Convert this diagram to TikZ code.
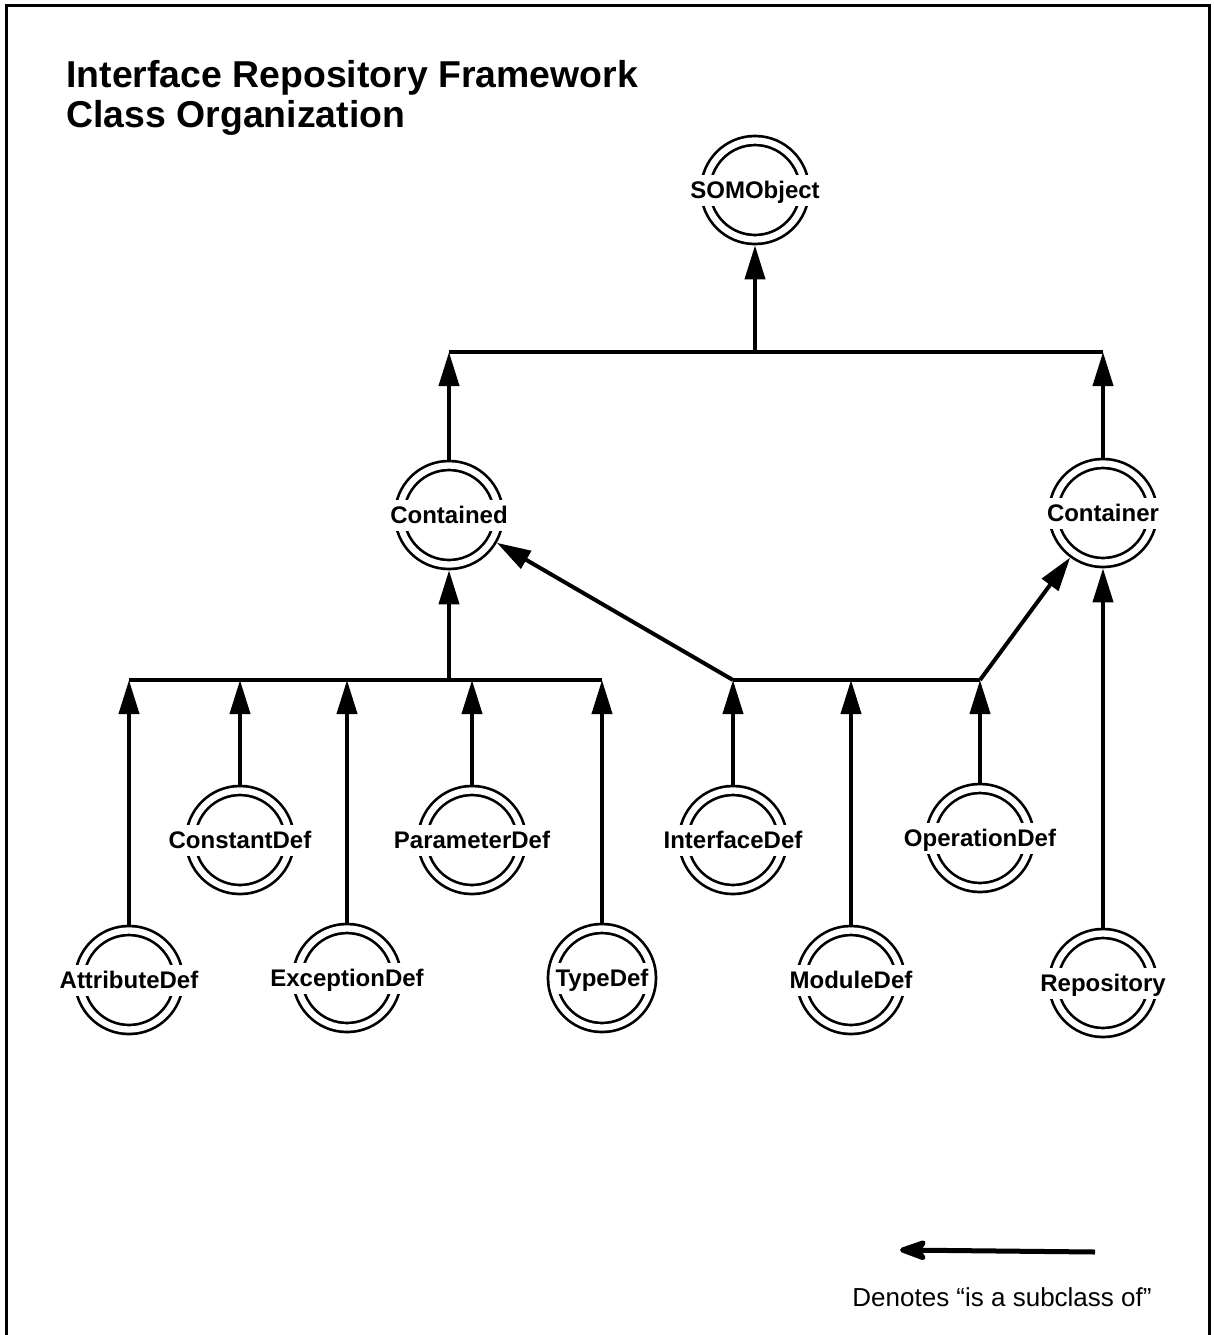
\documentclass[tikz,border=0pt]{standalone}
\usepackage{fontspec}
\setmainfont{Liberation Sans}
\usetikzlibrary{arrows.meta}
\begin{document}
\begin{tikzpicture}[x=0.5pt,y=-0.5pt,
  cls/.style={circle, draw, line width=1.35pt, double, double distance=3.15pt,
    minimum size=49.5pt, inner sep=0pt, outer sep=2.9pt},
  lbl/.style={fill=white, inner sep=1pt, text height=11pt, text depth=2.5pt,
    font=\bfseries\fontsize{12}{14}\selectfont},
  conn/.style={line width=2pt},
  isa/.style={conn, -{Triangle[length=17pt,width=10pt]}},
  titlefont/.style={font=\bfseries\fontsize{18.7}{20}\selectfont},
]
\useasboundingbox (0,0) rectangle (1214,1335);
% frame
\draw[line width=1.5pt] (6,1340) -- (6,5) -- (1209,5) -- (1209,1340);

% title
\node[titlefont, anchor=base west, inner sep=0pt] (t1) at (66,87) {Interface Repository Framework};
\node[titlefont, anchor=base west, inner sep=0pt] (t2) at (66,127) {Class Organization};

% class circles
\node[cls] (som) at (755,190) {};
\node[cls] (ctd) at (449,515) {};
\node[cls] (ctr) at (1103,513) {};
\node[cls] (cst) at (240,840) {};
\node[cls] (par) at (472,840) {};
\node[cls] (itf) at (733,840) {};
\node[cls] (opr) at (980,838) {};
\node[cls] (att) at (129,980) {};
\node[cls] (exc) at (347,978) {};
\node[cls] (typ) at (602,978) {};
\node[cls] (mod) at (851,980) {};
\node[cls] (rep) at (1103,983) {};

% labels
\node[lbl] at (som) {SOMObject};
\node[lbl] at (ctd) {Contained};
\node[lbl] at (ctr) {Container};
\node[lbl] at (cst) {ConstantDef};
\node[lbl] at (par) {ParameterDef};
\node[lbl] at (itf) {InterfaceDef};
\node[lbl] at (opr) {OperationDef};
\node[lbl] at (att) {AttributeDef};
\node[lbl] at (exc) {ExceptionDef};
\node[lbl] at (typ) {TypeDef};
\node[lbl] at (mod) {ModuleDef};
\node[lbl] at (rep) {Repository};

% bus coordinates
\coordinate (tl) at (449,352);
\coordinate (tm) at (755,352);
\coordinate (tr) at (1103,352);
\coordinate (l1) at (129,680);
\coordinate (l2) at (240,680);
\coordinate (l3) at (347,680);
\coordinate (lm) at (449,680);
\coordinate (l4) at (472,680);
\coordinate (l5) at (602,680);
\coordinate (r1) at (733,680);
\coordinate (r2) at (851,680);
\coordinate (r3) at (980,680);

% buses
\draw[conn] (tl) -- (tr);
\draw[conn] (l1) -- (l5);
\draw[conn] (r1) -- (r3);

% top level
\draw[isa] (tm) -- (som.south);
\draw[isa] (ctd.north) -- (tl);
\draw[isa] (ctr.north) -- (tr);

% contained group
\draw[isa] (lm) -- (ctd.south);
\draw[isa] (att.north) -- (l1);
\draw[isa] (cst.north) -- (l2);
\draw[isa] (exc.north) -- (l3);
\draw[isa] (par.north) -- (l4);
\draw[isa] (typ.north) -- (l5);

% both group
\draw[isa] (r1) -- (ctd);
\draw[isa] (r3) -- (ctr);
\draw[isa] (itf.north) -- (r1);
\draw[isa] (mod.north) -- (r2);
\draw[isa] (opr.north) -- (r3);

% container
\draw[isa] (rep.north) -- (ctr.south);

% legend
\coordinate (legA) at (1095,1252);
\coordinate (legB) at (900,1250);
\draw[line width=2.5pt, -{Stealth[length=17pt,width=12pt,inset=4pt,round]}] (legA) -- (legB);
\node[font=\fontsize{13}{15}\selectfont, inner sep=0pt] (legt) at (1002,1297) {Denotes “is a subclass of”};
\end{tikzpicture}
\end{document}
